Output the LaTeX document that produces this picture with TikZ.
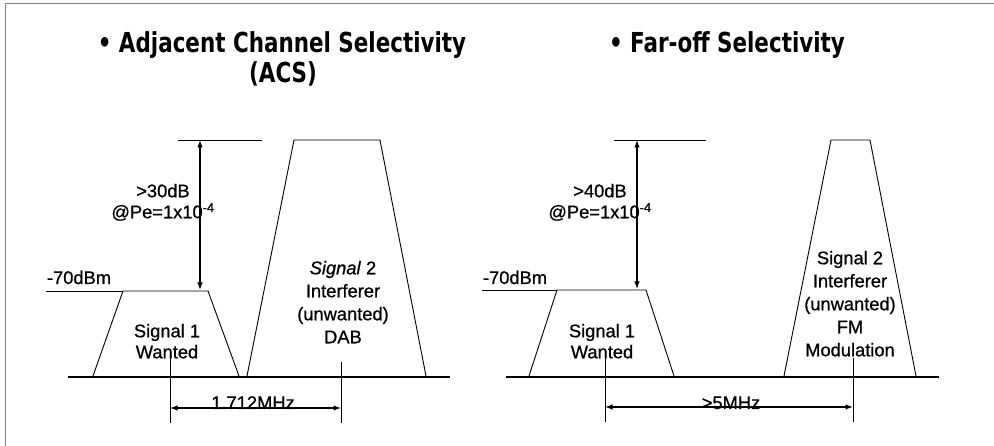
\documentclass[tikz,border=0pt]{standalone}
\usepackage{fontspec}
\setmainfont{Liberation Sans}[FakeBold=0.8]
\newfontfamily\titlefont{DejaVu Sans}
\usetikzlibrary{arrows.meta}
\newcommand\ttltext[1]{\scalebox{0.78}[1]{\titlefont\bfseries\fontsize{27.5}{30}\selectfont #1}}
\begin{document}
\begin{tikzpicture}[x=1pt,y=-1pt,
  every node/.style={inner sep=0pt,outer sep=0pt},
  lbl/.style={font=\fontsize{18.3}{23}\selectfont,align=center},
  lbltwo/.style={font=\fontsize{18.3}{21}\selectfont,align=center},
  single/.style={font=\fontsize{18.3}{21}\selectfont},
  thin/.style={line width=0.9pt},
  thick/.style={line width=1.8pt},
  dimline/.style={line width=1.3pt,{Latex[length=7.5pt,width=5.5pt]}-{Latex[length=7.5pt,width=5.5pt]}},
  frame/.style={line width=0.8pt,gray}]
\useasboundingbox (0,0) rectangle (994,446);
% frame
\coordinate (f1) at (5,446); \coordinate (f2) at (5,3); \coordinate (f3) at (994,3);
\draw[frame] (f1) -- (f2) -- (f3);
% titles
\node[anchor=base] (t1) at (282,53) {\ttltext{• Adjacent Channel Selectivity}};
\node[anchor=base] (t2) at (283,83) {\ttltext{(ACS)}};
\node[anchor=base] (t3) at (727,53) {\ttltext{• Far-off Selectivity}};
% ---------------- left panel
\coordinate (LtopA) at (178,140); \coordinate (LtopB) at (262,140);
\coordinate (LarT) at (200,140); \coordinate (LarB) at (200,290);
\coordinate (Lref) at (46,291);
\coordinate (L1a) at (93,376); \coordinate (L1b) at (123,291); \coordinate (L1c) at (208,291); \coordinate (L1d) at (239,376);
\coordinate (LbA) at (68,377); \coordinate (LbB) at (450,377);
\coordinate (L2a) at (247,376); \coordinate (L2b) at (294,140); \coordinate (L2c) at (380,140); \coordinate (L2d) at (426,376);
\coordinate (Lt1a) at (170,357); \coordinate (Lt1b) at (170,423);
\coordinate (Lt2a) at (341,362); \coordinate (Lt2b) at (341,423);
\coordinate (Ld1) at (170,408); \coordinate (Ld2) at (341,408);
\draw[thin] (LtopA) -- (LtopB);
\draw[thin] (Lref) -- (L1b);
\draw[thin] (L1a) -- (L1b) -- (L1c) -- (L1d);
\draw[thin] (L2a) -- (L2b) -- (L2c) -- (L2d);
\draw[thick] (LbA) -- (LbB);
\draw[thin] (Lt1a) -- (Lt1b);
\draw[thin] (Lt2a) -- (Lt2b);
\draw[dimline] (LarT) -- (LarB);
\draw[dimline] (Ld1) -- (Ld2);
\node[single,anchor=base west] (Lm70) at (47,284) {-70dBm};
\node[lbltwo,anchor=north] (Ldb) at (163,184) {>30dB\\@Pe=1x10\textsuperscript{-4}};
\node[lbltwo,anchor=north] (Ls1) at (167,324) {Signal 1\\Wanted};
\node[lbl,anchor=north] (Ls2) at (343,261) {\textit{Signal} 2\\Interferer\\(unwanted)\\DAB};
\node[single,anchor=base] (Lmhz) at (253,409) {1.712MHz};
% ---------------- right panel
\coordinate (RtopA) at (614,140); \coordinate (RtopB) at (706,140);
\coordinate (RarT) at (637,140); \coordinate (RarB) at (637,289);
\coordinate (Rref) at (482,290);
\coordinate (R1a) at (529,376); \coordinate (R1b) at (557,290); \coordinate (R1c) at (646,290); \coordinate (R1d) at (674,376);
\coordinate (RbA) at (506,377); \coordinate (RbB) at (939,377);
\coordinate (R2a) at (784,376); \coordinate (R2b) at (831,140); \coordinate (R2c) at (870,140); \coordinate (R2d) at (916,376);
\coordinate (Rt1a) at (605,353); \coordinate (Rt1b) at (605,422);
\coordinate (Rt2a) at (853,358); \coordinate (Rt2b) at (853,422);
\coordinate (Rd1) at (605,407); \coordinate (Rd2) at (853,407);
\draw[thin] (RtopA) -- (RtopB);
\draw[thin] (Rref) -- (R1b);
\draw[thin] (R1a) -- (R1b) -- (R1c) -- (R1d);
\draw[thin] (R2a) -- (R2b) -- (R2c) -- (R2d);
\draw[thick] (RbA) -- (RbB);
\draw[thin] (Rt1a) -- (Rt1b);
\draw[thin] (Rt2a) -- (Rt2b);
\draw[dimline] (RarT) -- (RarB);
\draw[dimline] (Rd1) -- (Rd2);
\node[single,anchor=base west] (Rm70) at (483,284) {-70dBm};
\node[lbltwo,anchor=north] (Rdb) at (600,184) {>40dB\\@Pe=1x10\textsuperscript{-4}};
\node[lbltwo,anchor=north] (Rs1) at (602,324) {Signal 1\\Wanted};
\node[lbl,anchor=north] (Rs2) at (850,251) {Signal 2\\Interferer\\(unwanted)\\FM\\Modulation};
\node[single,anchor=base] (Rmhz) at (731,409) {>5MHz};
\end{tikzpicture}
\end{document}
